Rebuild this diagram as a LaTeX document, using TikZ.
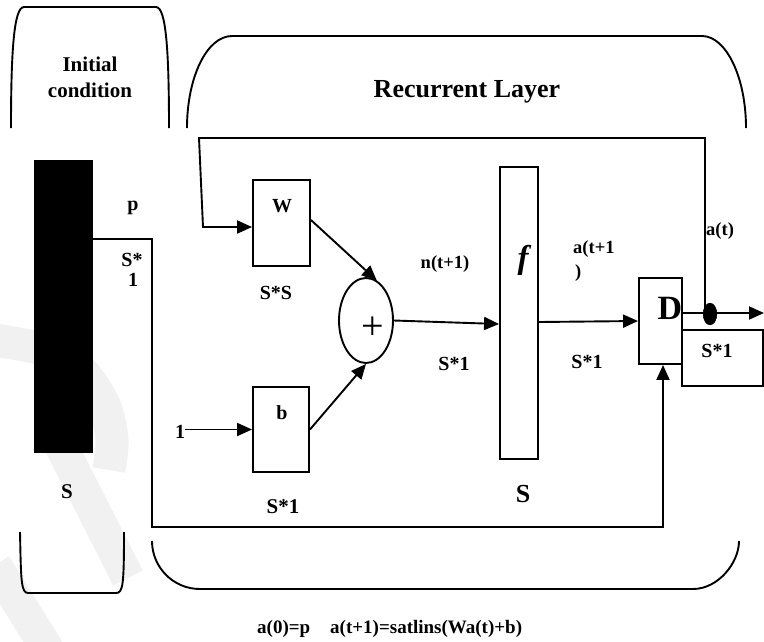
\documentclass[tikz,border=0pt]{standalone}
\usepackage{fontspec}
\setmainfont{Liberation Serif}
\usetikzlibrary{arrows.meta,shapes.geometric,calc}
\begin{document}
\begin{tikzpicture}[x=1pt,y=-1pt,
  ln/.style={line width=1.9pt},
  arr/.style={ln,-{Triangle[length=15pt,width=13pt]}},
  boxn/.style={draw,ln,inner sep=0pt,minimum width=#1},
  lbl/.style={inner sep=0pt,anchor=base,font=\fontsize{20}{23}\selectfont\bfseries},
  sml/.style={inner sep=0pt,anchor=base west,font=\fontsize{18.5}{21}\selectfont\bfseries},
  wm/.style={line width=33pt,gray!11}]
\useasboundingbox (0,0) rectangle (764,641);
\fill[white] (0,0) rectangle (764,641);
% watermark
\draw[wm] plot[smooth] coordinates {(-5,340) (45,350) (81,371) (104,405) (112,440) (109,470)};
\draw[wm] (58,440) -- (128,578);
\draw[wm] (-5,565) -- (48,650);
% brackets
\draw[ln] (11,128) .. controls (11,50) and (14,7) .. (24,7) -- (156,7) .. controls (166,7) and (169,50) .. (169,128);
\draw[ln] (20,532) .. controls (21,580) and (21,593) .. (28,593) -- (116,593) .. controls (123,593) and (124,585) .. (124,532);
\draw[ln] (187,128) .. controls (187,77) and (207,36) .. (232,36) -- (702,36) .. controls (726,36) and (746,77) .. (746,128);
\draw[ln] (152,541) .. controls (152,567) and (173,589) .. (200,589) -- (693,589) .. controls (718,589) and (739,563) .. (739,541);
% titles
\node[inner sep=0pt,anchor=base,font=\fontsize{21}{25}\selectfont\bfseries] (t1) at (90,71) {Initial};
\node[inner sep=0pt,anchor=base,font=\fontsize{21}{25}\selectfont\bfseries] (t2) at (90,97) {condition};
\node[inner sep=0pt,anchor=base,font=\fontsize{26}{30}\selectfont\bfseries] (t3) at (467,97) {Recurrent Layer};
% blocks
\node[fill=black,inner sep=0pt,minimum width=59pt,minimum height=293pt] (bar) at (63.5,306.5) {};
\node[boxn=57pt,minimum height=86pt] (W) at (281.5,223) {};
\node[boxn=56pt,minimum height=85pt] (b) at (281,429.5) {};
\node[draw,ln,ellipse,inner sep=0pt,minimum width=54pt,minimum height=85pt] (plus) at (366,320.5) {};
\node[boxn=38pt,minimum height=292pt] (f) at (519,313) {};
\node[boxn=43pt,minimum height=86pt] (D) at (660.5,321) {};
\node[boxn=81pt,minimum height=56pt] (Sb) at (722.5,358) {};
% texts in blocks
\node[lbl] (Wl) at (282,212) {W};
\node[lbl] (bl) at (282,419) {b};
\node[inner sep=0pt,font=\fontsize{40}{44}\selectfont] (pl) at (373,328) {+};
\node[inner sep=0pt,font=\fontsize{33}{36}\selectfont\bfseries\itshape] (fl) at (523,260) {f};
\node[inner sep=0pt,anchor=base,font=\fontsize{34}{37}\selectfont\bfseries] (Dl) at (670,319) {D};
\node[lbl] (Sbl) at (717,357) {S*1};
% labels
\node[lbl] (pL) at (133,210) {p};
\node[lbl] (s1a) at (132,266) {S*};
\node[lbl] (s1b) at (133,286) {1};
\node[lbl] (SS) at (276,299) {S*S};
\node[lbl] (one) at (180,438) {1};
\node[sml,anchor=base] (ntl) at (445,268) {n(t+1)};
\node[lbl] (s2) at (454,370) {S*1};
\node[sml] (atl) at (573,253) {a(t+1};
\node[sml] (atl2) at (575,277) {)};
\node[lbl] (s3) at (587,368) {S*1};
\node[sml] (atL) at (706,235) {a(t)};
\node[inner sep=0pt,anchor=base,font=\fontsize{21}{24}\selectfont\bfseries] (Sbar) at (67,498) {S};
\node[lbl,font=\fontsize{21}{24}\selectfont\bfseries] (s4) at (283,513) {S*1};
\node[inner sep=0pt,anchor=base,font=\fontsize{26}{28}\selectfont\bfseries] (Sf) at (523,502) {S};
\node[inner sep=0pt,anchor=base west,font=\fontsize{19}{22}\selectfont\bfseries] (eq) at (257,633) {a(0)=p\hspace{20pt}a(t+1)=satlins(Wa(t)+b)};
% connectors
\coordinate (pin) at (93,239);
\coordinate (p1) at (152,239);
\coordinate (p2) at (152,527);
\coordinate (p3) at (663,527);
\draw[arr] (pin) -- (p1) -- (p2) -- (p3) -- (p3 |- D.south);
\draw[arr] (one.east |- b.west) -- (b.west);
\draw[arr] ([yshift=3pt]W.east) -- (plus.75);
\draw[arr] (b.east) -- (plus.south);
\draw[arr] (plus.east) -- ([yshift=-11pt]f.west);
\draw[arr] ([yshift=-9pt]f.east) -- (D.west);
\coordinate (outp) at (764,313);
\draw[arr] ([yshift=8pt]D.east) -- (outp);
\coordinate (fbA) at (705,138);
\coordinate (fbB) at (199,138);
\coordinate (fbC) at (203,227);
\node[fill=black,ellipse,inner sep=0pt,minimum width=14pt,minimum height=22pt] (dot) at (710,314) {};
\draw[arr] (dot.center -| fbA) -- (fbA) -- (fbB) -- (fbC) -- (fbC -| W.west);
\node[fill=black,ellipse,inner sep=0pt,minimum width=14pt,minimum height=22pt] at (dot) {};
\end{tikzpicture}
\end{document}
